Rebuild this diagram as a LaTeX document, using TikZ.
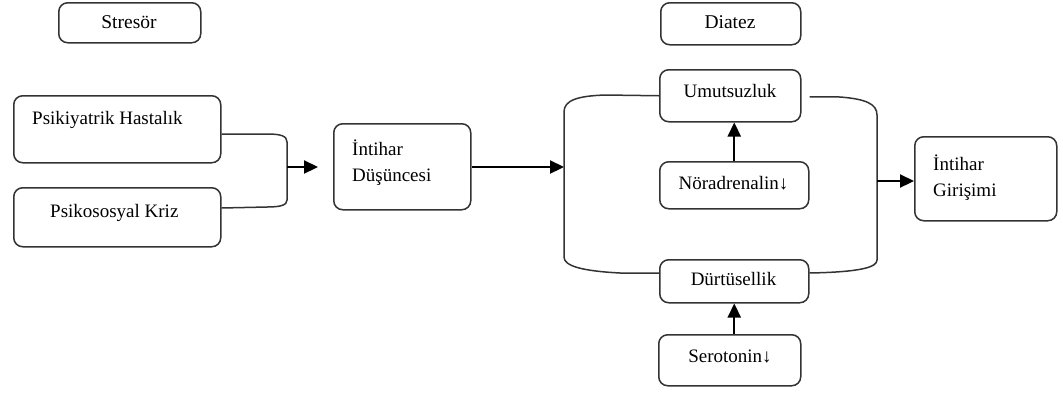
\documentclass[tikz,border=0pt]{standalone}
\usepackage{fontspec}
\setmainfont{Liberation Serif}
\usetikzlibrary{arrows.meta,calc}
\tikzset{
  box/.style={draw=black!80, line width=1.5pt, rounded corners=9pt, inner sep=0pt, anchor=north west},
  txt/.style={inner sep=0pt, font=\fontsize{19}{26}\selectfont},
  conn/.style={draw=black!80, line width=1.5pt},
  arr/.style={draw=black, line width=2.2pt, -{Triangle[length=14pt,width=13pt]}}
}
\begin{document}
\begin{tikzpicture}[x=1pt,y=-1pt]
\useasboundingbox (0,0) rectangle (1063,392);
% boxes
\node[box, minimum width=142pt, minimum height=40pt] (str) at (58,2) {};
\node[box, minimum width=140pt, minimum height=42pt] (dia) at (660,2) {};
\node[box, minimum width=207pt, minimum height=67pt] (psk) at (13,95) {};
\node[box, minimum width=207pt, minimum height=59pt] (kriz) at (13,187) {};
\node[box, minimum width=137pt, minimum height=86pt] (dus) at (333,123) {};
\node[box, minimum width=141pt, minimum height=52pt] (umu) at (659,69) {};
\node[box, minimum width=149pt, minimum height=47pt] (nor) at (659,161) {};
\node[box, minimum width=149pt, minimum height=43pt] (dur) at (659,259) {};
\node[box, minimum width=142pt, minimum height=51pt] (ser) at (658,334) {};
\node[box, minimum width=142pt, minimum height=84pt] (gir) at (914,136) {};
% texts
\node[txt, anchor=base, font=\fontsize{19.5}{26}\selectfont] (tstr) at (129,28) {Stresör};
\node[txt, anchor=base, font=\fontsize{19.5}{26}\selectfont] (tdia) at (730,28) {Diatez};
\node[txt, anchor=base west] (tpsk) at (32,124) {Psikiyatrik Hastalık};
\node[txt, anchor=base west] (tkriz) at (50,217) {Psikososyal Kriz};
\node[txt, anchor=north west, align=left] (tdus) at (352,140) {İntihar\\Düşüncesi};
\node[txt, anchor=base] (tumu) at (730,97) {Umutsuzluk};
\node[txt, anchor=base] (tnor) at (733.5,189) {Nöradrenalin↓};
\node[txt, anchor=base] (tdur) at (733.5,285) {Dürtüsellik};
\node[txt, anchor=base] (tser) at (730,362) {Serotonin↓};
\node[txt, anchor=north west, align=left] (tgir) at (933,155) {İntihar\\Girişimi};
% junction coordinates
\coordinate (j1) at (287,167);
\coordinate (bl) at (564,167);
\coordinate (br) at (877,181);
% left merge connector
\draw[conn] ($(psk.north east)+(0,39)$) -- (267,134) .. controls (281,134) and (287,136) .. (287,142)
  -- (287,200) .. controls (287,205) and (281,207) .. (267,207) -- ($(kriz.north east)+(0,21)$);
\draw[arr, shorten >=15pt] (j1) -- (j1 -| dus.west);
\draw[arr] (dus.east |- bl) -- (bl);
% bracket
\draw[conn] (umu.west) -- (605,95) .. controls (578,96) and (564,100) .. (564,112)
  -- (564,257) .. controls (564,266) and (582,271) .. (620,273) -- ($(dur.north west)+(0,14)$);
\draw[conn] ($(umu.east)+(8,1)$) -- (840,97) .. controls (866,99) and (877,104) .. (877,115)
  -- (877,260) .. controls (877,267) and (862,272) .. ($(dur.north east)+(0,14)$);
\draw[arr] (br) -- (br -| gir.west);
\draw[arr] (nor.north) -- (nor.north |- umu.south);
\draw[arr] (dur.south |- ser.north) -- (dur.south);
\end{tikzpicture}
\end{document}
